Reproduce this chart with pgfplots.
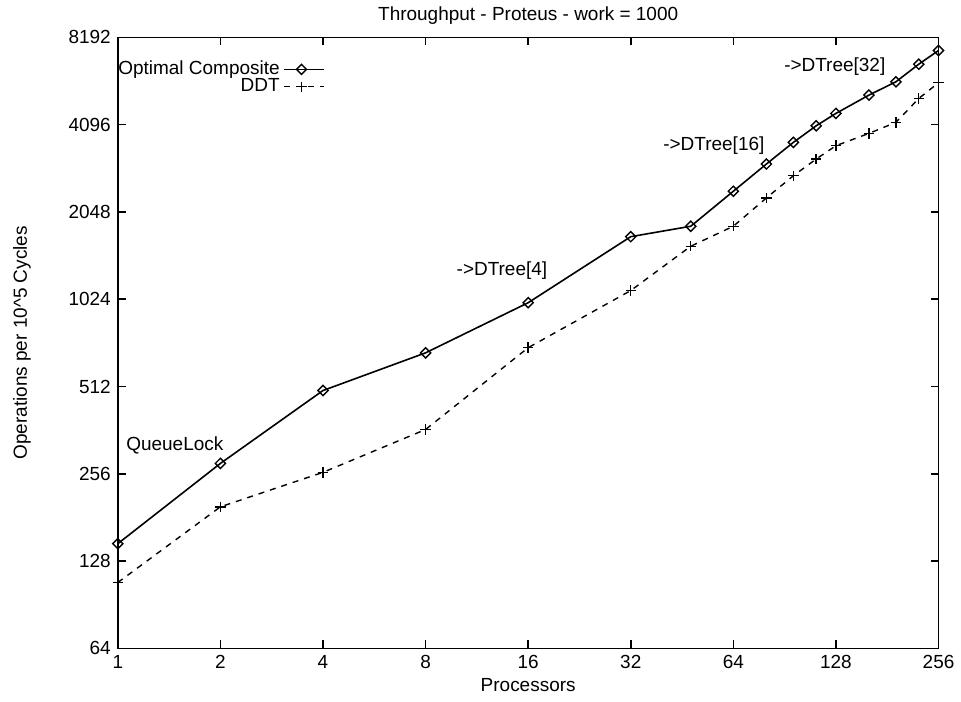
\documentclass[border=0pt]{standalone}
\usepackage{fontspec}
\setmainfont{Liberation Sans}
\usepackage{pgfplots}
\pgfplotsset{compat=1.18}
\begin{document}
\begin{tikzpicture}
\begin{axis}[
  scale only axis,
  width=411pt, height=306pt,
  xmode=log, ymode=log, log basis x=2, log basis y=2,
  xmin=1, xmax=256, ymin=64, ymax=8192,
  xtick={1,2,4,8,16,32,64,128,256},
  xticklabels={1,2,4,8,16,32,64,128,256},
  ytick={64,128,256,512,1024,2048,4096,8192},
  yticklabels={64,128,256,512,1024,2048,4096,8192},
  minor tick num=0,
  tick align=inside,
  major tick length=4pt,
  every tick/.style={black, line width=0.8pt},
  axis line style={line width=0.8pt},
  /pgf/number format/assume math mode=true,
  tick label style={font=\fontsize{9.5}{11}\selectfont},
  title={Throughput - Proteus - work = 1000},
  title style={font=\fontsize{9.5}{11}\selectfont, yshift=-3pt},
  xlabel={Processors},
  xlabel style={font=\fontsize{9.5}{11}\selectfont, yshift=2pt},
  ylabel={Operations per 10\textasciicircum 5 Cycles},
  ylabel style={font=\fontsize{9.5}{11}\selectfont, yshift=12pt},
  legend style={at={(-0.012,0.975)}, anchor=north west, draw=none, fill=none,
    font=\fontsize{9.5}{11}\selectfont, row sep=-3.5pt},
  legend cell align=right,
  legend plot pos=right,
  legend image code/.code={%
    \draw[mark repeat=2, mark phase=2] plot coordinates {(0.1cm,0cm) (0.4cm,0cm) (0.8cm,0cm)};},
  clip=false,
]
\addplot[black, line width=0.8pt, mark=square, mark size=1.8pt, mark options={solid, rotate=45, line width=0.7pt}]
coordinates {
  (1,147) (2,278) (4,496) (8,669) (16,996) (32,1683) (48,1828) (64,2414)
  (80,2996) (96,3558) (112,4059) (128,4479) (160,5180) (192,5757)
  (224,6621) (256,7380)
};
\addlegendentry{Optimal Composite}
\addplot[black, line width=0.7pt, dashed, mark=+, mark size=2.6pt, mark options={solid, line width=0.7pt}]
coordinates {
  (1,108) (2,197) (4,259) (8,364) (16,697) (32,1097) (48,1560) (64,1828)
  (80,2288) (96,2730) (112,3117) (128,3466) (160,3822) (192,4171)
  (224,5043) (256,5713)
};
\addlegendentry{DDT}
\node[font=\fontsize{9.5}{11}\selectfont] at (axis cs:1.47,320) {QueueLock};
\node[font=\fontsize{9.5}{11}\selectfont] at (axis cs:13.4,1283) {->DTree[4]};
\node[font=\fontsize{9.5}{11}\selectfont] at (axis cs:56.1,3457) {->DTree[16]};
\node[font=\fontsize{9.5}{11}\selectfont] at (axis cs:127,6515) {->DTree[32]};
\end{axis}
\path (current axis.south west) ++(-59pt,-26.5pt) coordinate (bbA);
\path (current axis.north east) ++(10.5pt,16.5pt) coordinate (bbB);
\useasboundingbox (bbA) rectangle (bbB);
\end{tikzpicture}
\end{document}
